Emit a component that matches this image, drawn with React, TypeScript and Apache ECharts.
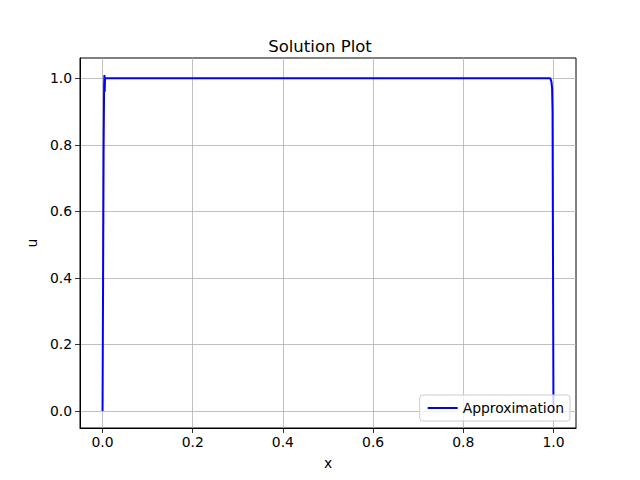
import React, { useEffect, useRef } from "react";
import * as echarts from "echarts";

const xValues = [0, 0.0012, 0.0024, 0.0035, 0.0042, 0.0048, 0.0055, 0.007, 0.5, 0.993, 0.9955, 0.997, 0.998, 0.999, 1.0];
const yValues = [0, 0.4, 0.8, 0.98, 1.01, 0.96, 1.0, 1.0, 1.0, 1.0, 0.99, 0.97, 0.9, 0.45, 0.0];
const xTicks = [0, 0.2, 0.4, 0.6, 0.8, 1.0];
const yTicks = [0, 0.2, 0.4, 0.6, 0.8, 1.0];

export default function App() {
  const ref = useRef<HTMLDivElement>(null);
  useEffect(() => {
    if (!ref.current) return;
    const chart = echarts.init(ref.current, null, { renderer: "svg" });
    const font = "DejaVu Sans";
    chart.setOption({
      animation: false,
      backgroundColor: "#ffffff",
      textStyle: { fontFamily: font },
      title: {
        text: "Solution Plot",
        left: "center",
        top: 33,
        textStyle: { fontFamily: font, fontSize: 16.5, fontWeight: "normal", color: "#000" },
      },
      grid: {
        left: 80,
        right: 64,
        top: 58,
        bottom: 52,
        show: true,
        borderColor: "#000",
        borderWidth: 1,
        backgroundColor: "transparent",
      },
      legend: {
        right: 70,
        bottom: 59,
        orient: "vertical",
        itemWidth: 30,
        itemHeight: 2,
        itemGap: 10,
        padding: [6, 6, 6, 8],
        borderColor: "#cccccc",
        borderWidth: 1,
        borderRadius: 3,
        backgroundColor: "rgba(255,255,255,0.8)",
        textStyle: { fontFamily: font, fontSize: 13.9, color: "#000" },
        data: [{ name: "Approximation", icon: "rect" }],
      },
      xAxis: {
        type: "value",
        min: -0.05,
        max: 1.05,
        name: "x",
        nameLocation: "middle",
        nameGap: 28,
        nameTextStyle: { fontFamily: font, fontSize: 13.9, color: "#000" },
        axisLine: { show: true, onZero: false, lineStyle: { color: "#000", width: 1 } },
        axisTick: { show: true, customValues: xTicks, length: 5, inside: false, lineStyle: { color: "#000", width: 0.8 } },
        axisLabel: {
          customValues: xTicks,
          formatter: (v: number) => v.toFixed(1),
          fontFamily: font,
          fontSize: 13.9,
          color: "#000",
          margin: 7,
        },
        splitLine: { show: true, lineStyle: { color: "#b0b0b0", width: 0.8 } },
      },
      yAxis: {
        type: "value",
        min: -0.051,
        max: 1.061,
        name: "u",
        nameLocation: "middle",
        nameGap: 40,
        nameTextStyle: { fontFamily: font, fontSize: 13.9, color: "#000" },
        axisLine: { show: true, onZero: false, lineStyle: { color: "#000", width: 1 } },
        axisTick: { show: true, customValues: yTicks, length: 5, inside: false, lineStyle: { color: "#000", width: 0.8 } },
        axisLabel: {
          customValues: yTicks,
          formatter: (v: number) => v.toFixed(1),
          fontFamily: font,
          fontSize: 13.9,
          color: "#000",
          margin: 8,
        },
        splitLine: { show: true, lineStyle: { color: "#b0b0b0", width: 0.8 } },
      },
      series: [
        {
          name: "Approximation",
          type: "line",
          data: xValues.map((x, i) => [x, yValues[i]]),
          symbol: "none",
          showSymbol: false,
          lineStyle: { color: "#0000ff", width: 2 },
          itemStyle: { color: "#0000ff" },
          clip: true,
        },
      ],
    });
    return () => chart.dispose();
  }, []);
  return (
    <div
      ref={ref}
      style={{ width: 640, height: 480, position: "fixed", left: 0, top: 0 }}
    />
  );
}
